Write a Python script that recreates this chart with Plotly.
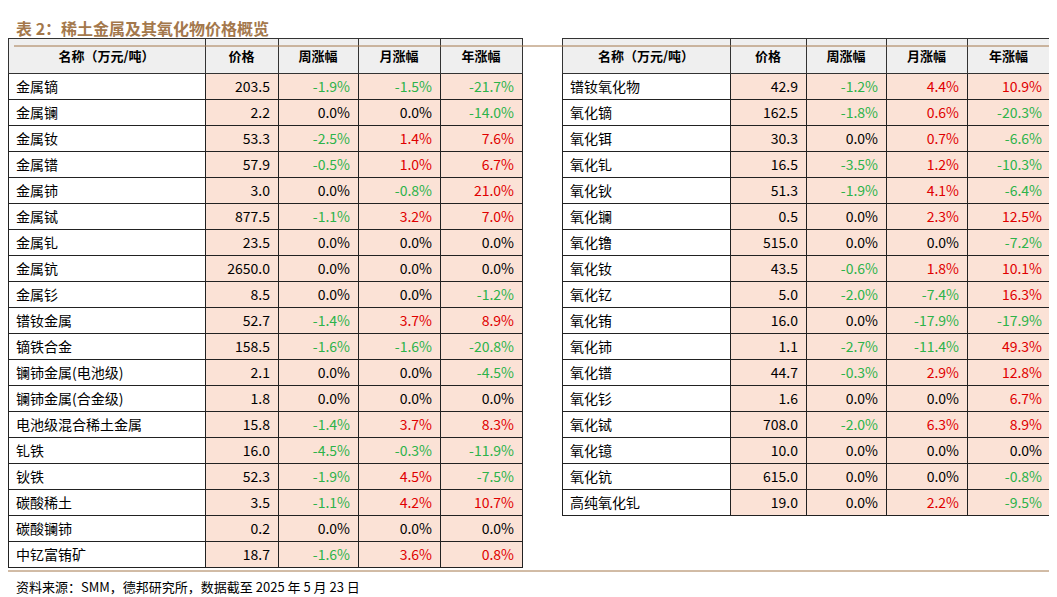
import plotly.graph_objects as go

W, H = 1057, 597

header = ["名称（万元/吨）", "价格", "周涨幅", "月涨幅", "年涨幅"]

left_names = ["金属镝", "金属镧", "金属钕", "金属镨", "金属铈", "金属铽", "金属钆", "金属钪", "金属钐",
              "镨钕金属", "镝铁合金", "镧铈金属(电池级)", "镧铈金属(合金级)", "电池级混合稀土金属",
              "钆铁", "钬铁", "碳酸稀土", "碳酸镧铈", "中钇富铕矿"]
left_price = [203.5, 2.2, 53.3, 57.9, 3.0, 877.5, 23.5, 2650.0, 8.5, 52.7, 158.5, 2.1, 1.8, 15.8,
              16.0, 52.3, 3.5, 0.2, 18.7]
left_week = [-1.9, 0.0, -2.5, -0.5, 0.0, -1.1, 0.0, 0.0, 0.0, -1.4, -1.6, 0.0, 0.0, -1.4, -4.5, -1.9, -1.1, 0.0, -1.6]
left_month = [-1.5, 0.0, 1.4, 1.0, -0.8, 3.2, 0.0, 0.0, 0.0, 3.7, -1.6, 0.0, 0.0, 3.7, -0.3, 4.5, 4.2, 0.0, 3.6]
left_year = [-21.7, -14.0, 7.6, 6.7, 21.0, 7.0, 0.0, 0.0, -1.2, 8.9, -20.8, -4.5, 0.0, 8.3, -11.9, -7.5, 10.7, 0.0, 0.8]

right_names = ["镨钕氧化物", "氧化镝", "氧化铒", "氧化钆", "氧化钬", "氧化镧", "氧化镥", "氧化钕", "氧化钇",
               "氧化铕", "氧化铈", "氧化镨", "氧化钐", "氧化铽", "氧化镱", "氧化钪", "高纯氧化钆"]
right_price = [42.9, 162.5, 30.3, 16.5, 51.3, 0.5, 515.0, 43.5, 5.0, 16.0, 1.1, 44.7, 1.6, 708.0, 10.0, 615.0, 19.0]
right_week = [-1.2, -1.8, 0.0, -3.5, -1.9, 0.0, 0.0, -0.6, -2.0, 0.0, -2.7, -0.3, 0.0, -2.0, 0.0, 0.0, 0.0]
right_month = [4.4, 0.6, 0.7, 1.2, 4.1, 2.3, 0.0, 1.8, -7.4, -17.9, -11.4, 2.9, 0.0, 6.3, 0.0, 0.0, 2.2]
right_year = [10.9, -20.3, -6.6, -10.3, -6.4, 12.5, -7.2, 10.1, 16.3, -17.9, 49.3, 12.8, 6.7, 8.9, 0.0, -0.8, -9.5]

FONT = "Noto Sans CJK SC"
PEACH = "#fbe2d6"


def col(v):
    return "#e00000" if v > 0 else ("#2db34a" if v < 0 else "black")


def make_table(names, price, week, month, year, x0, x1, widths):
    n = len(names)
    pct = [[f"{v:.1f}%" for v in s] for s in (week, month, year)]
    colors = [["black"] * n, ["black"] * n] + [[col(v) for v in s] for s in (week, month, year)]
    return go.Table(
        domain=dict(x=[x0 / W, x1 / W], y=[0, 1 - 30 / H]),
        columnwidth=widths,
        header=dict(values=[f"<b>{h}</b>" for h in header], fill_color="#efefef",
                    line=dict(color="#333", width=1), align="center", height=26,
                    font=dict(family=FONT, size=13, color="black")),
        cells=dict(values=[names, [f"{p:.1f}" for p in price]] + pct,
                   fill_color=[["white"] * n] + [[PEACH] * n] * 4,
                   line=dict(color="#222", width=1), align=["left", "right", "right", "right", "right"],
                   height=26, font=dict(family=FONT, size=14, color=colors)),
    )


fig = go.Figure()
fig.add_trace(make_table(left_names, left_price, left_week, left_month, left_year, 0, 514, [197, 73, 80, 82, 82]))
fig.add_trace(make_table(right_names, right_price, right_week, right_month, right_year, 554, 1042, [168, 76, 80, 81, 83]))

fig.add_annotation(text="<b>表 2：稀土金属及其氧化物价格概览</b>", x=6 / W, y=1 - 20 / H, xref="paper", yref="paper",
                   xanchor="left", yanchor="middle", showarrow=False,
                   font=dict(family=FONT, size=16, color="#a4784c"))
fig.add_annotation(text="资料来源：SMM，德邦研究所，数据截至 2025 年 5 月 23 日", x=6 / W, y=1 - 578 / H,
                   xref="paper", yref="paper", xanchor="left", yanchor="middle", showarrow=False,
                   font=dict(family=FONT, size=13, color="black"))
fig.add_shape(type="line", xref="paper", yref="paper", x0=6 / W, x1=1050 / W, y0=1 - 38 / H, y1=1 - 38 / H,
              line=dict(color="#a4784c", width=1))
fig.add_shape(type="line", xref="paper", yref="paper", x0=0, x1=1050 / W, y0=1 - 563 / H, y1=1 - 563 / H,
              line=dict(color="#a4784c", width=1))

fig.update_layout(width=W, height=H, margin=dict(l=0, r=0, t=0, b=0), paper_bgcolor="white")
fig.write_html("out.html")
